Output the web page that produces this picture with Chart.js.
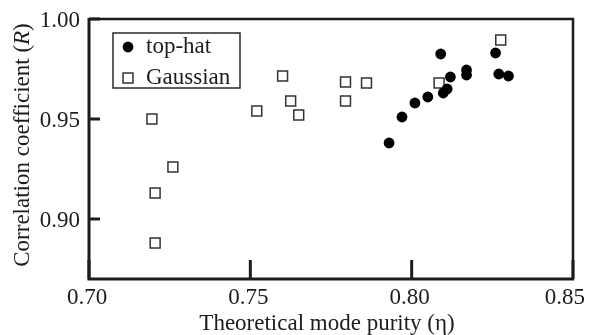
<!DOCTYPE html>
<html>
<head>
<meta charset="utf-8">
<script src="https://cdn.jsdelivr.net/npm/chart.js@4/dist/chart.umd.min.js"></script>
<style>
  html, body { margin: 0; padding: 0; background: #fff; }
  #wrap { width: 589px; height: 335px; }
</style>
</head>
<body>
<div id="wrap"><canvas id="purityChart" width="589" height="335"></canvas></div>
<script>
// ------------------------------------------
// Mode purity vs. correlation coefficient
// ------------------------------------------

const topHatPurity = [0.793, 0.797, 0.801, 0.805, 0.809, 0.8098, 0.811, 0.812, 0.817, 0.817, 0.826, 0.827, 0.830];
const topHatR      = [0.938, 0.951, 0.958, 0.961, 0.9825, 0.963, 0.965, 0.971, 0.9745, 0.972, 0.983, 0.9725, 0.9715];

const gaussPurity = [0.7195, 0.726, 0.7205, 0.7205, 0.760, 0.7625, 0.752, 0.765, 0.7795, 0.7795, 0.786, 0.8085, 0.8276];
const gaussR      = [0.950, 0.926, 0.913, 0.888, 0.9715, 0.959, 0.954, 0.952, 0.9685, 0.959, 0.968, 0.968, 0.9895];

const xTicks = [0.70, 0.75, 0.80, 0.85];
const yTicks = [0.90, 0.95, 1.00];

const xTitle = "Theoretical mode purity (\u03B7)";
const yTitleParts = ["Correlation coefficient (", "R", ")"];

const SERIF = '"Liberation Serif", "Times New Roman", serif';
const INK = "#1c1c1c";

function toPoints(xs, ys) {
    return xs.map((x, i) => ({ x: x, y: ys[i] }));
}

// frame, inward ticks, tick labels and axis titles
const axesPlugin = {
    id: "paperAxes",
    afterDatasetsDraw(chart) {
        const ctx = chart.ctx;
        const area = chart.chartArea;
        const xs = chart.scales.x;
        const ys = chart.scales.y;

        ctx.save();
        ctx.strokeStyle = INK;
        ctx.lineCap = "butt";

        // top and right edges
        ctx.lineWidth = 2.5;
        ctx.beginPath();
        ctx.moveTo(area.left, area.top);
        ctx.lineTo(area.right, area.top);
        ctx.lineTo(area.right, area.bottom);
        ctx.stroke();

        // left and bottom axes
        ctx.lineWidth = 3;
        ctx.beginPath();
        ctx.moveTo(area.left, area.top - 1);
        ctx.lineTo(area.left, area.bottom);
        ctx.lineTo(area.right + 1, area.bottom);
        ctx.stroke();

        // tick marks pointing into the plot
        xTicks.forEach(v => {
            const px = xs.getPixelForValue(v);
            ctx.beginPath();
            ctx.moveTo(px, area.bottom);
            ctx.lineTo(px, area.bottom - 19);
            ctx.stroke();
        });
        yTicks.forEach(v => {
            const py = ys.getPixelForValue(v);
            ctx.beginPath();
            ctx.moveTo(area.left, py);
            ctx.lineTo(area.left + 11, py);
            ctx.stroke();
        });

        // tick labels
        ctx.fillStyle = INK;
        ctx.font = "23px " + SERIF;
        ctx.textBaseline = "alphabetic";
        ctx.textAlign = "center";
        xTicks.forEach(v => {
            const label = v.toFixed(2);
            const w = ctx.measureText(label).width;
            let px = xs.getPixelForValue(v) - 2;
            px = Math.min(px, chart.width - 4 - w / 2);
            ctx.fillText(label, px, area.bottom + 25);
        });
        ctx.textAlign = "right";
        yTicks.forEach(v => {
            const py = ys.getPixelForValue(v);
            ctx.fillText(v.toFixed(2), area.left - 9, py + 8);
        });

        // x title
        ctx.textAlign = "center";
        ctx.fillText(xTitle, (area.left + area.right) / 2 - 4, 330);

        // y title, with italic R
        const fonts = ["23px " + SERIF, "italic 23px " + SERIF, "23px " + SERIF];
        const widths = yTitleParts.map((t, i) => {
            ctx.font = fonts[i];
            return ctx.measureText(t).width;
        });
        const total = widths.reduce((a, b) => a + b, 0);
        ctx.translate(29, (area.top + area.bottom) / 2 - 4);
        ctx.rotate(-Math.PI / 2);
        ctx.textAlign = "left";
        let cx = -total / 2;
        yTitleParts.forEach((t, i) => {
            ctx.font = fonts[i];
            ctx.fillText(t, cx, 0);
            cx += widths[i];
        });
        ctx.restore();
    }
};

// boxed legend in the upper-left corner of the plot
const boxLegendPlugin = {
    id: "boxLegend",
    afterDraw(chart) {
        const ctx = chart.ctx;
        const left = 113, top = 33, w = 127, h = 55;
        ctx.save();
        ctx.strokeStyle = "#2a2a2a";
        ctx.lineWidth = 1.5;
        ctx.strokeRect(left, top, w, h);

        ctx.font = "23px " + SERIF;
        ctx.textAlign = "left";
        ctx.textBaseline = "alphabetic";
        chart.data.datasets.forEach((ds, i) => {
            const cy = top + 14 + i * 31;
            ctx.fillStyle = ds.backgroundColor;
            ctx.strokeStyle = ds.borderColor;
            ctx.lineWidth = ds.borderWidth;
            ctx.beginPath();
            if (ds.pointStyle === "circle") {
                ctx.arc(left + 15, cy, ds.pointRadius, 0, Math.PI * 2);
                ctx.fill();
            } else {
                const s = ds.pointRadius / Math.SQRT2;
                ctx.rect(left + 15 - s, cy - s, 2 * s, 2 * s);
                ctx.fill();
                ctx.stroke();
            }
            ctx.fillStyle = INK;
            ctx.fillText(ds.label, left + 33, cy + 6);
        });
        ctx.restore();
    }
};

const ctx = document.getElementById("purityChart").getContext("2d");

const purityChart = new Chart(ctx, {
    type: "scatter",
    data: {
        datasets: [{
            label: "top-hat",
            data: toPoints(topHatPurity, topHatR),
            pointStyle: "circle",
            pointRadius: 5.4,
            pointHoverRadius: 5.4,
            backgroundColor: "#000000",
            borderColor: "#000000",
            borderWidth: 0
        }, {
            label: "Gaussian",
            data: toPoints(gaussPurity, gaussR),
            pointStyle: "rect",
            pointRadius: 7,
            pointHoverRadius: 7,
            backgroundColor: "#ffffff",
            borderColor: "#333333",
            borderWidth: 1.5
        }]
    },
    options: {
        responsive: false,
        devicePixelRatio: 1,
        animation: false,
        layout: {
            padding: { top: 19, right: 16, left: 0, bottom: 0 }
        },
        plugins: {
            legend: { display: false },
            tooltip: { enabled: false }
        },
        scales: {
            x: {
                type: "linear",
                min: 0.70,
                max: 0.85,
                ticks: { display: false },
                grid: { display: false, drawTicks: false },
                border: { display: false },
                afterFit(scale) { scale.height = 56; }
            },
            y: {
                type: "linear",
                min: 0.87,
                max: 1.00,
                ticks: { display: false },
                grid: { display: false, drawTicks: false },
                border: { display: false },
                afterFit(scale) { scale.width = 89; }
            }
        }
    },
    plugins: [axesPlugin, boxLegendPlugin]
});
</script>
</body>
</html>
